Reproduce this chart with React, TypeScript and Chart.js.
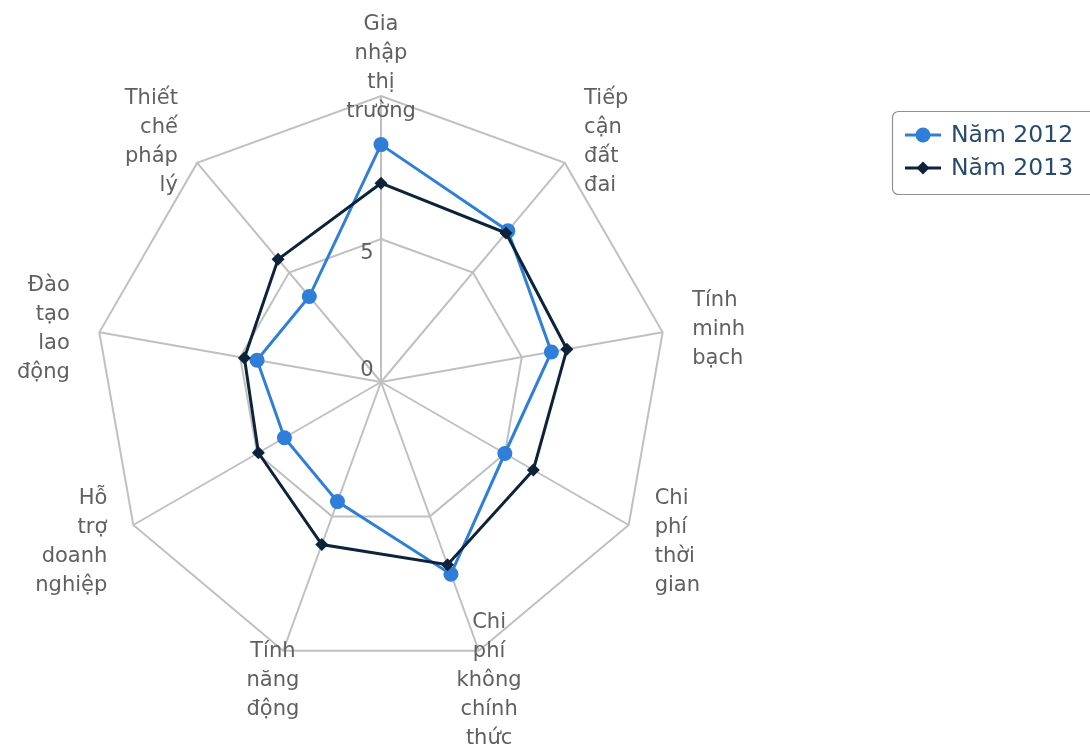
import { useEffect, useRef } from "react";
import { Chart, registerables } from "chart.js";

Chart.register(...registerables);

const categories = [
  "Gia nhập thị trường",
  "Tiếp cận đất đai",
  "Tính minh bạch",
  "Chi phí thời gian",
  "Chi phí không chính thức",
  "Tính năng động",
  "Hỗ trợ doanh nghiệp",
  "Đào tạo lao động",
  "Thiết chế pháp lý",
];
const seriesNames = ["Năm 2012", "Năm 2013"];
const values2012 = [8.3, 6.9, 6.05, 5.0, 7.15, 4.45, 3.9, 4.4, 3.9];
const values2013 = [6.95, 6.8, 6.6, 6.15, 6.8, 6.05, 4.95, 4.85, 5.6];
const tickValues = [0, 5];
const axisMin = 0;
const axisMax = 10;

const COLOR_2012 = "#2f7ed8";
const COLOR_2013 = "#0d233a";
const GRID = "#c0c0c0";
const LABEL_COLOR = "#606060";
const FONT = "'DejaVu Sans', 'Liberation Sans', sans-serif";

const W = 1090;
const H = 751;

const overlayPlugin = {
  id: "overlayPlugin",
  afterDraw(chart: any) {
    const ctx = chart.ctx;
    const scale = chart.scales.r;
    const R = scale.drawingArea;
    ctx.save();
    // category labels
    ctx.fillStyle = LABEL_COLOR;
    ctx.font = `21px ${FONT}`;
    ctx.textBaseline = "middle";
    const lineH = 29;
    categories.forEach((cat, i) => {
      const p = scale.getPointPosition(i, R + 30);
      const angle = (i / categories.length) * Math.PI * 2;
      const s = Math.sin(angle);
      let align: CanvasTextAlign = "center";
      if (Math.abs(s) >= 0.5) align = s > 0 ? "left" : "right";
      ctx.textAlign = align;
      const lines = cat.split(" ");
      const top = p.y - ((lines.length - 1) * lineH) / 2 + 2;
      lines.forEach((ln, k) => ctx.fillText(ln, p.x, top + k * lineH));
    });
    // tick labels
    ctx.textAlign = "center";
    tickValues.forEach((v) => {
      const d = scale.getDistanceFromCenterForValue(v);
      const y = v === axisMin ? scale.yCenter - 11 : scale.yCenter - d + 15;
      ctx.fillText(String(v), scale.xCenter - 14, y);
    });

    // legend
    const bx = 892.5, by = 111.5, bw = 210, bh = 83, br = 6;
    ctx.beginPath();
    ctx.moveTo(bx + br, by);
    ctx.lineTo(bx + bw - br, by);
    ctx.arcTo(bx + bw, by, bx + bw, by + br, br);
    ctx.lineTo(bx + bw, by + bh - br);
    ctx.arcTo(bx + bw, by + bh, bx + bw - br, by + bh, br);
    ctx.lineTo(bx + br, by + bh);
    ctx.arcTo(bx, by + bh, bx, by + bh - br, br);
    ctx.lineTo(bx, by + br);
    ctx.arcTo(bx, by, bx + br, by, br);
    ctx.closePath();
    ctx.strokeStyle = "#909090";
    ctx.lineWidth = 1.2;
    ctx.stroke();

    const items = [
      { name: seriesNames[0], color: COLOR_2012, style: "circle", r: 7.5 },
      { name: seriesNames[1], color: COLOR_2013, style: "rectRot", r: 6.5 },
    ];
    items.forEach((it, k) => {
      const cy = 135 + k * 33;
      ctx.strokeStyle = it.color;
      ctx.lineWidth = 3;
      ctx.beginPath();
      ctx.moveTo(905, cy);
      ctx.lineTo(941, cy);
      ctx.stroke();
      ctx.fillStyle = it.color;
      ctx.beginPath();
      if (it.style === "circle") {
        ctx.arc(923, cy, it.r, 0, Math.PI * 2);
      } else {
        ctx.moveTo(923, cy - it.r);
        ctx.lineTo(923 + it.r, cy);
        ctx.lineTo(923, cy + it.r);
        ctx.lineTo(923 - it.r, cy);
        ctx.closePath();
      }
      ctx.fill();
      ctx.fillStyle = "#274b6d";
      ctx.font = `23.5px ${FONT}`;
      ctx.textAlign = "left";
      ctx.textBaseline = "middle";
      ctx.fillText(it.name, 951, cy + 1);
    });
    ctx.restore();
  },
};

export default function App() {
  const canvasRef = useRef<HTMLCanvasElement | null>(null);

  useEffect(() => {
    if (!canvasRef.current) return;
    const chart = new Chart(canvasRef.current, {
      type: "radar",
      data: {
        labels: categories,
        datasets: [
          {
            label: seriesNames[0],
            data: values2012,
            borderColor: COLOR_2012,
            backgroundColor: COLOR_2012,
            pointBackgroundColor: COLOR_2012,
            pointBorderWidth: 0,
            pointStyle: "circle",
            pointRadius: 7.5,
            borderWidth: 3,
            fill: false,
            order: 1,
          },
          {
            label: seriesNames[1],
            data: values2013,
            borderColor: COLOR_2013,
            backgroundColor: COLOR_2013,
            pointBackgroundColor: COLOR_2013,
            pointBorderWidth: 0,
            pointStyle: "rectRot",
            pointRadius: 6.5,
            borderWidth: 3,
            fill: false,
            order: 0,
          },
        ],
      },
      options: {
        responsive: false,
        animation: false,
        layout: { padding: { left: 95, right: W - 95 - 572, top: 96, bottom: H - 96 - 572 } },
        plugins: {
          legend: { display: false },
          tooltip: { enabled: false },
          title: { display: false },
        },
        elements: { line: { tension: 0 } },
        scales: {
          r: {
            min: axisMin,
            max: axisMax,
            ticks: { stepSize: 5, display: false },
            grid: { circular: false, color: GRID, lineWidth: 2 },
            angleLines: { color: GRID, lineWidth: 2 },
            pointLabels: { display: false },
          },
        },
      },
      plugins: [overlayPlugin],
    });
    return () => chart.destroy();
  }, []);

  return (
    <div style={{ position: "fixed", left: 0, top: 0, width: W, height: H, background: "#fff" }}>
      <canvas ref={canvasRef} width={W} height={H} style={{ display: "block" }} />
    </div>
  );
}
